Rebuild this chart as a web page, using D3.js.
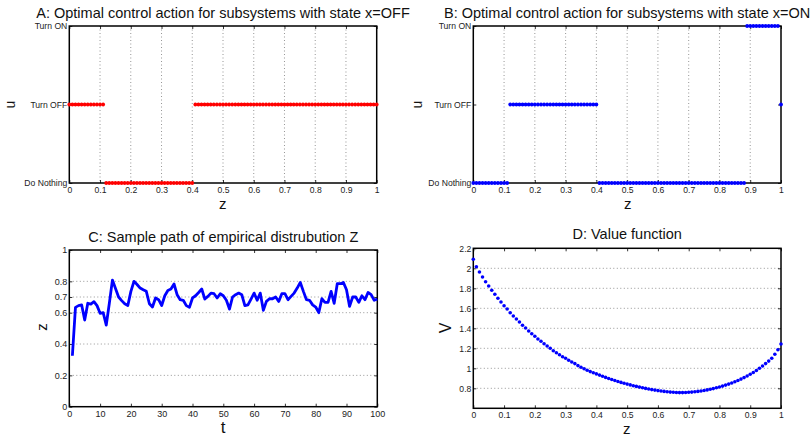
<!DOCTYPE html>
<html><head><meta charset="utf-8">
<script src="https://cdn.jsdelivr.net/npm/d3@7/dist/d3.min.js"></script>
<style>
body{margin:0;background:#fff;}
svg{display:block;font-family:"Liberation Sans",Arial,Helvetica,sans-serif;}
</style></head><body>
<svg id="c" width="810" height="436"></svg>
<script>
// ---- data ----
const zGrid = d3.range(0, 101).map(i => i / 100);           // z sample grid 0..1 step 0.01
const actionLabels = ["Do Nothing", "Turn OFF", "Turn ON"];  // codes 0,1,2
const xTicksZ = [0,0.1,0.2,0.3,0.4,0.5,0.6,0.7,0.8,0.9,1];
const uA = [1,1,1,1,1,1,1,1,1,1,1,1,
  0,0,0,0,0,0,0,0,0,0,0,0,0,0,0,0,0,0,0,0,0,0,0,0,0,0,0,0,0,
  1,1,1,1,1,1,1,1,1,1,1,1,1,1,1,1,1,1,1,1,1,1,1,1,1,1,1,1,1,1,
  1,1,1,1,1,1,1,1,1,1,1,1,1,1,1,1,1,1,1,1,1,1,1,1,1,1,1,1,1,1];
const uB = [0,0,0,0,0,0,0,0,0,0,0,0,
  1,1,1,1,1,1,1,1,1,1,1,1,1,1,1,1,1,1,1,1,1,1,1,1,1,1,1,1,1,
  0,0,0,0,0,0,0,0,0,0,0,0,0,0,0,0,0,0,0,0,0,0,0,0,
  0,0,0,0,0,0,0,0,0,0,0,0,0,0,0,0,0,0,0,0,0,0,0,0,
  2,2,2,2,2,2,2,2,2,2,2,
  1];
const tSteps = d3.range(1, 101);
const zPath = [0.325,0.634,0.645,0.65,0.553,0.66,0.655,0.67,0.645,0.596,
  0.60,0.521,0.66,0.808,0.755,0.70,0.677,0.657,0.646,0.736,
  0.80,0.78,0.757,0.746,0.736,0.657,0.636,0.694,0.683,0.646,
  0.708,0.742,0.751,0.783,0.715,0.683,0.679,0.645,0.634,0.694,
  0.708,0.729,0.751,0.687,0.704,0.725,0.721,0.694,0.721,0.708,
  0.679,0.623,0.70,0.715,0.725,0.715,0.645,0.65,0.687,0.725,
  0.679,0.725,0.615,0.672,0.689,0.689,0.70,0.672,0.721,0.721,
  0.683,0.704,0.725,0.757,0.793,0.736,0.683,0.679,0.65,0.636,
  0.60,0.689,0.666,0.666,0.736,0.66,0.785,0.785,0.793,0.746,
  0.64,0.70,0.70,0.666,0.708,0.683,0.729,0.715,0.679,0.687];
const xTicksT = [0,10,20,30,40,50,60,70,80,90,100];
const yTicksC = [0,0.2,0.4,0.6,0.7,0.8,1];
const gridC = [0.2,0.4,0.6,0.7,0.8];
const V = [2.09,2.016,1.963,1.913,1.866,1.823,1.78,1.74,1.70,1.663,
  1.626,1.593,1.556,1.523,1.493,1.463,1.43,1.403,1.373,1.346,
  1.32,1.293,1.27,1.246,1.223,1.20,1.176,1.156,1.136,1.116,
  1.10,1.08,1.063,1.047,1.027,1.01,0.995,0.98,0.967,0.955,
  0.944,0.932,0.92,0.909,0.898,0.888,0.878,0.868,0.859,0.85,
  0.842,0.834,0.826,0.819,0.812,0.805,0.799,0.793,0.787,0.782,
  0.777,0.773,0.769,0.765,0.762,0.76,0.758,0.757,0.757,0.758,
  0.76,0.762,0.765,0.769,0.773,0.778,0.784,0.79,0.797,0.805,
  0.813,0.822,0.832,0.842,0.853,0.865,0.878,0.892,0.907,0.923,
  0.94,0.958,0.978,1.0,1.023,1.047,1.072,1.10,1.14,1.185,
  1.243];
const yTicksD = [0.8,1,1.2,1.4,1.6,1.8,2,2.2];
const gridD = [0.8,1,1.2,1.4,1.6,1.8,2];

const svg = d3.select("#c");

function panel(o){
  const g = svg.append("g");
  const x = d3.scaleLinear().domain(o.xd).range([o.l, o.r]);
  const y = d3.scaleLinear().domain(o.yd).range([o.b, o.t]);
  // grid
  (o.vgrid||[]).forEach(v => g.append("line").attr("x1",x(v)).attr("x2",x(v)).attr("y1",o.t).attr("y2",o.b)
    .attr("stroke","#7a7a7a").attr("stroke-width",0.8).attr("stroke-dasharray","1,2.5"));
  (o.hgrid||[]).forEach(v => g.append("line").attr("x1",o.l).attr("x2",o.r).attr("y1",y(v)).attr("y2",y(v))
    .attr("stroke","#7a7a7a").attr("stroke-width",0.8).attr("stroke-dasharray","1,2.5"));
  // axes
  const fs = o.fs;
  const ax = (gen, tr) => {
    const a = g.append("g").attr("transform", tr).call(gen);
    a.select(".domain").remove();
    a.selectAll(".tick line").attr("stroke","#000").attr("stroke-width",0.8);
    a.selectAll("text").attr("fill","#222").style("font-size", fs+"px").style("font-family","'Liberation Sans',Arial,sans-serif");
    return a;
  };
  ax(d3.axisBottom(x).tickValues(o.xt).tickSizeInner(-3).tickSizeOuter(0).tickPadding(4).tickFormat(d3.format("")), `translate(0,${o.b})`);
  ax(d3.axisTop(x).tickValues(o.xt).tickSizeInner(-3).tickSizeOuter(0).tickFormat(""), `translate(0,${o.t})`);
  ax(d3.axisLeft(y).tickValues(o.yt).tickSizeInner(-3).tickSizeOuter(0).tickPadding(2).tickFormat(o.yf || d3.format("")), `translate(${o.l},0)`);
  ax(d3.axisRight(y).tickValues(o.yt).tickSizeInner(-3).tickSizeOuter(0).tickFormat(""), `translate(${o.r},0)`);
  g.append("rect").attr("x",o.l).attr("y",o.t).attr("width",o.r-o.l).attr("height",o.b-o.t)
    .attr("fill","none").attr("stroke","#000").attr("stroke-width",1.5);
  // title & labels
  g.append("text").attr("x",(o.l+o.r)/2).attr("y",o.titleY).attr("text-anchor","middle")
    .style("font-size","14.5px").attr("fill","#111").text(o.title);
  g.append("text").attr("x",o.xlx).attr("y",o.xly).attr("text-anchor","middle")
    .style("font-size",o.xlfs+"px").attr("fill","#111").text(o.xl);
  g.append("text").attr("transform",`translate(${o.ylx},${o.yly}) rotate(-90)`).attr("text-anchor","middle")
    .style("font-size",o.ylfs+"px").attr("fill","#111").text(o.yl);
  return {g,x,y};
}

// Panel A
const A = panel({l:69.3,r:376.7,t:26,b:183,xd:[0,1],yd:[0,2],xt:xTicksZ,yt:[0,1,2],
  yf:d=>actionLabels[d],fs:8.6,vgrid:xTicksZ.slice(1,-1),
  title:"A: Optimal control action for subsystems with state x=OFF",titleY:18,
  xl:"z",xlx:222.7,xly:209,xlfs:15,yl:"u",ylx:15,yly:104.5,ylfs:14});
A.g.selectAll("circle.a").data(zGrid).join("circle").attr("cx",d=>A.x(d)).attr("cy",(d,i)=>A.y(uA[i]))
  .attr("r",1.9).attr("fill","#ff0000");

// Panel B
const B = panel({l:473.3,r:781,t:26,b:183,xd:[0,1],yd:[0,2],xt:xTicksZ,yt:[0,1,2],
  yf:d=>actionLabels[d],fs:8.6,vgrid:xTicksZ.slice(1,-1),
  title:"B: Optimal control action for subsystems with state x=ON",titleY:18,
  xl:"z",xlx:627.7,xly:209,xlfs:15,yl:"u",ylx:422,yly:104.5,ylfs:14});
B.g.selectAll("circle.b").data(zGrid).join("circle").attr("cx",d=>B.x(d)).attr("cy",(d,i)=>B.y(uB[i]))
  .attr("r",1.9).attr("fill","#0000ff");

// Panel C
const C = panel({l:69.3,r:377.3,t:250,b:406.7,xd:[0,100],yd:[0,1],xt:xTicksT,yt:yTicksC,
  fs:9,hgrid:gridC,
  title:"C: Sample path of empirical distrubution Z",titleY:242,
  xl:"t",xlx:223,xly:433,xlfs:17,yl:"z",ylx:47,yly:327,ylfs:15});
C.g.append("path").datum(tSteps).attr("fill","none").attr("stroke","#0000ff").attr("stroke-width",2.8)
  .attr("stroke-linejoin","round")
  .attr("d", d3.line().x(d=>C.x(d)).y((d,i)=>C.y(zPath[i])));

// Panel D
const D = panel({l:473.3,r:781,t:248.3,b:408.3,xd:[0,1],yd:[0.6,2.2],xt:xTicksZ,yt:yTicksD,
  fs:8.6,hgrid:gridD,
  title:"D: Value function",titleY:239,
  xl:"z",xlx:626.7,xly:434,xlfs:15,yl:"V",ylx:451,yly:328,ylfs:16});
D.g.selectAll("circle.d").data(zGrid).join("circle").attr("cx",d=>D.x(d)).attr("cy",(d,i)=>D.y(V[i]))
  .attr("r",1.8).attr("fill","#0000ff");
</script>
</body></html>
